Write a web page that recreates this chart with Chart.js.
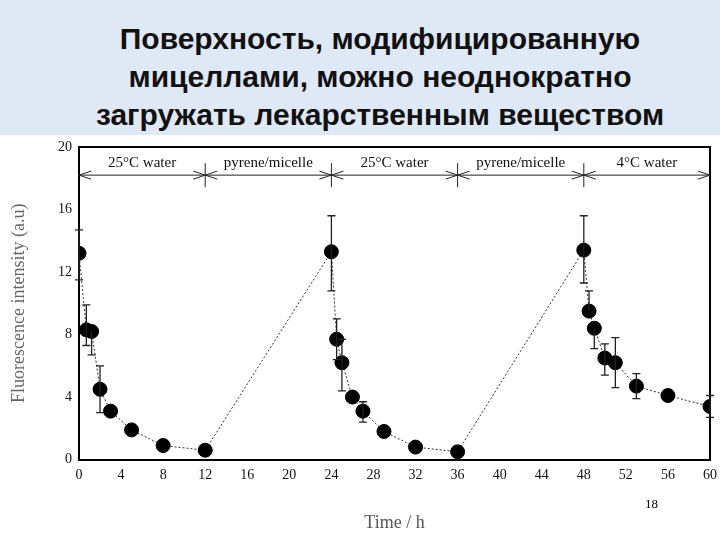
<!DOCTYPE html><html><head><meta charset="utf-8">
<script src="https://cdn.jsdelivr.net/npm/chart.js@4"></script>
<style>
body{margin:0;width:720px;height:540px;background:#fff;position:relative;overflow:hidden;font-family:"Liberation Sans",Arial,sans-serif}
#bg{position:absolute;left:0;top:0;width:720px;height:135px;background:#dfe8f5}
#title{position:absolute;left:0;top:20px;width:760px;text-align:center;font-weight:bold;font-size:30px;line-height:38px;color:#111}
#wrap{position:absolute;left:0;top:130px;width:720px;height:410px}
#pg{position:absolute;left:645px;top:496px;font-family:"Liberation Serif";font-size:13px}
</style></head><body>
<div id="bg"></div>
<div id="title">Поверхность, модифицированную<br>мицеллами, можно неоднократно<br>загружать лекарственным веществом</div>
<div id="wrap"><canvas id="c"></canvas></div>
<div id="pg">18</div>
<script>
const times=[0,0.7,1.2,2,3,5,8,12,24,24.5,25,26,27,29,32,36,48,48.5,49,50,51,53,56,60];
const intensity=[13.2,8.3,8.2,4.5,3.1,1.9,0.9,0.6,13.3,7.7,6.2,4.0,3.1,1.8,0.8,0.5,13.4,9.5,8.4,6.5,6.2,4.7,4.1,3.4];
const errUp=[1.5,1.6,0,1.5,0,0,0,0,2.3,1.3,1.5,0,0.6,0,0,0,2.2,1.3,0,0.9,1.6,0.8,0,0.7];
const errDown=[1.7,1.0,1.5,1.5,0,0,0,0,2.5,1.3,1.8,0,0.7,0,0,0,2.1,0,1.3,1.1,1.6,0.8,0,0.7];
const segments=[[0,12,"25\u00B0C water"],[12,24,"pyrene/micelle"],[24,36,"25\u00B0C water"],[36,48,"pyrene/micelle"],[48,60,"4\u00B0C water"]];
const xTicks=[0,4,8,12,16,20,24,28,32,36,40,44,48,52,56,60];
const overlay={id:'ov',afterDatasetsDraw(ch){
 const c=ch.ctx,x=ch.scales.x,y=ch.scales.y,a0=ch.chartArea;c.save();c.strokeStyle='#000';c.lineWidth=2;
 c.beginPath();c.moveTo(a0.left,a0.top);c.lineTo(a0.right,a0.top);c.lineTo(a0.right,a0.bottom);c.stroke();
 c.strokeStyle='#222';c.lineWidth=1.3;
 times.forEach((t,i)=>{const px=x.getPixelForValue(t);
  [[errUp[i],1],[errDown[i],-1]].forEach(([e,s])=>{if(!e)return;const py0=y.getPixelForValue(intensity[i]),py=y.getPixelForValue(intensity[i]+s*e);
   c.beginPath();c.moveTo(px,py0);c.lineTo(px,py);c.moveTo(px-4,py);c.lineTo(px+4,py);c.stroke();});});
 const ay=y.getPixelForValue(18.2);c.lineWidth=1;c.font='15px "Liberation Serif"';c.fillStyle='#111';c.textAlign='center';
 segments.forEach(([a,b,l])=>{const p1=x.getPixelForValue(a),p2=x.getPixelForValue(b);
  c.beginPath();c.moveTo(p1,ay);c.lineTo(p2,ay);
  c.moveTo(p1+12,ay-4);c.lineTo(p1,ay);c.lineTo(p1+12,ay+4);
  c.moveTo(p2-12,ay-4);c.lineTo(p2,ay);c.lineTo(p2-12,ay+4);c.stroke();
  if(a>0){c.beginPath();c.moveTo(p1,ay-12);c.lineTo(p1,ay+12);c.stroke();}
  c.fillText(l,(p1+p2)/2,ay-8);});
 c.restore();}};
new Chart(document.getElementById('c'),{type:'scatter',
 data:{datasets:[{data:times.map((t,i)=>({x:t,y:intensity[i]})),showLine:true,borderColor:'#333',borderWidth:1,borderDash:[2,2],
  pointRadius:7,pointBackgroundColor:'#000',pointBorderColor:'#000'}]},
 options:{responsive:true,maintainAspectRatio:false,animation:false,
  layout:{padding:{left:4,right:10,top:17,bottom:2}},
  plugins:{legend:{display:false},tooltip:{enabled:false}},
  scales:{
   x:{min:0,max:60,afterBuildTicks:a=>{a.ticks=xTicks.map(v=>({value:v}))},
    grid:{display:false,drawTicks:true,tickLength:5,color:'#000'},border:{color:'#000',width:2},
    ticks:{color:'#111',font:{family:'Liberation Serif',size:14},padding:2,maxRotation:0},
    title:{display:true,text:'Time / h',color:'#555',font:{family:'Liberation Serif',size:18},padding:{top:27}}},
   y:{min:0,max:20,ticks:{stepSize:4,color:'#111',font:{family:'Liberation Serif',size:14},padding:2},
    grid:{display:false,tickLength:5},border:{color:'#000',width:2},afterFit:s=>{s.width=75},
    title:{display:true,text:'Fluorescence intensity (a.u)',color:'#666',font:{family:'Liberation Serif',size:18},padding:{bottom:8}}}}},
 plugins:[overlay]});
</script></body></html>
